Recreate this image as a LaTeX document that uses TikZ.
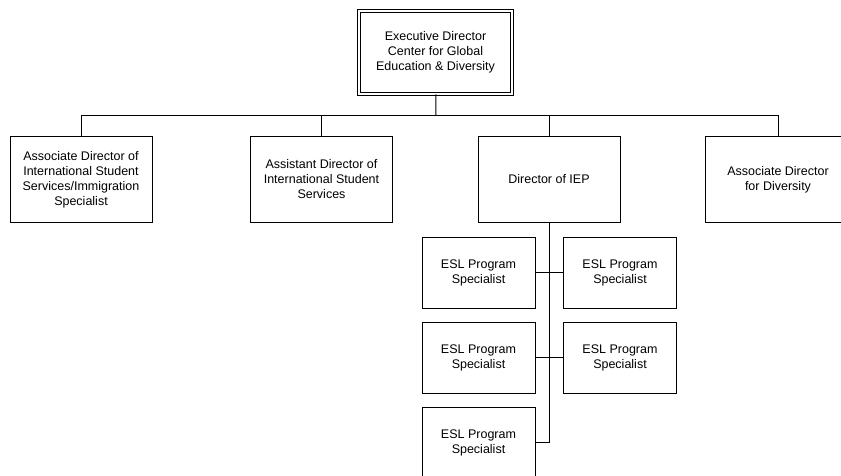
\documentclass[tikz,border=0pt]{standalone}
\usepackage{fontspec}
\setmainfont{Liberation Sans}

\begin{document}
\begin{tikzpicture}
  [x=1pt,y=-1pt,line width=1pt,
   every node/.style={draw,align=center,inner sep=2pt,
     font=\fontsize{12.5}{15}\selectfont},
   post/.style={minimum width=142pt,minimum height=85pt},
   esl/.style={minimum width=113pt,minimum height=71pt}]
  \useasboundingbox (0,0) rectangle (841,476);
  \node[double,double distance=2.2pt,line width=0.8pt,
        minimum width=153pt,minimum height=83pt] (exec) at (435.5,52.5)
    {Executive Director\\Center for Global\\Education \& Diversity};
  \node[post] (assoc) at (81,179.5)
    {Associate Director of\\International Student\\Services/Immigration\\Specialist};
  \node[post] (asst) at (321.5,179.5)
    {Assistant Director of\\International Student\\Services};
  \node[post] (iep) at (549,179.5) {Director of IEP};
  \node[post,minimum width=146pt] (div) at (778,179.5)
    {Associate Director\\for Diversity};
  \node[esl] (esl1) at (478.5,272.5) {ESL Program\\Specialist};
  \node[esl] (esl2) at (620,272.5) {ESL Program\\Specialist};
  \node[esl] (esl3) at (478.5,357.5) {ESL Program\\Specialist};
  \node[esl] (esl4) at (620,357.5) {ESL Program\\Specialist};
  \node[esl] (esl5) at (478.5,442.5) {ESL Program\\Specialist};
  \coordinate (bus) at (436,116);
  \draw (exec) -- (bus);
  \draw (assoc) |- (bus -| div) -- (div);
  \foreach \to in {asst,iep}
    \draw (bus -| \to) -- (\to);
  \draw (iep) -- (iep |- esl5) -- (esl5);
  \foreach \from/\to in {esl1/esl2,esl3/esl4}
    \draw (\from) -- (\to);
\end{tikzpicture}
\end{document}
